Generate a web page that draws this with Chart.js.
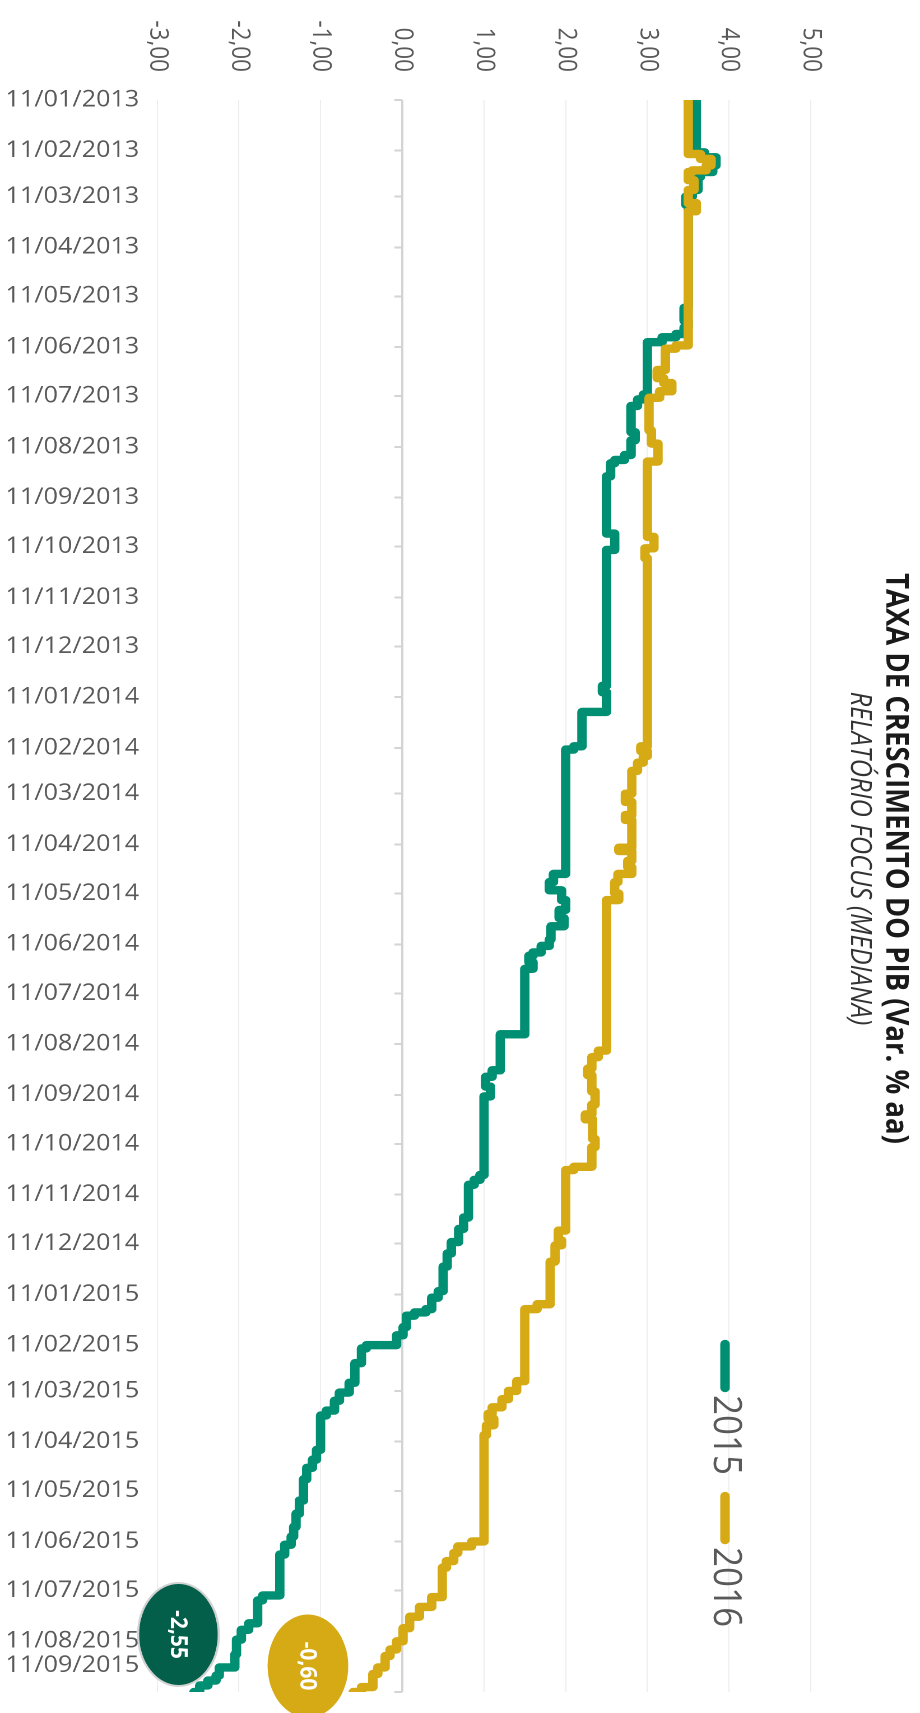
<!DOCTYPE html>
<html>
<head>
<meta charset="utf-8">
<title>Taxa de crescimento do PIB</title>
<script src="https://cdn.jsdelivr.net/npm/chart.js@4.4.1/dist/chart.umd.min.js"></script>
<style>
  html, body { margin: 0; padding: 0; background: #ffffff; }
  body { width: 920px; height: 1713px; overflow: hidden; position: relative; }
  /* the chart is laid out landscape and turned a quarter turn clockwise */
  #frame {
    position: absolute; left: 0; top: 0;
    width: 1713px; height: 821px;
    transform-origin: 0 0;
    transform: translate(920px, 0) rotate(90deg) scale(1, 1.12058);
  }
</style>
</head>
<body>
<div id="frame"><canvas id="chart" width="1713" height="821"></canvas></div>
<script>
// ---- data -----------------------------------------------------------------
const titleText = 'TAXA DE CRESCIMENTO DO PIB (Var. % aa)';
const subtitleText = 'RELATÓRIO FOCUS (MEDIANA)';

const dateLabels = [
  '11/01/2013', '11/02/2013', '11/03/2013', '11/04/2013', '11/05/2013', '11/06/2013',
  '11/07/2013', '11/08/2013', '11/09/2013', '11/10/2013', '11/11/2013', '11/12/2013',
  '11/01/2014', '11/02/2014', '11/03/2014', '11/04/2014', '11/05/2014', '11/06/2014',
  '11/07/2014', '11/08/2014', '11/09/2014', '11/10/2014', '11/11/2014', '11/12/2014',
  '11/01/2015', '11/02/2015', '11/03/2015', '11/04/2015', '11/05/2015', '11/06/2015',
  '11/07/2015', '11/08/2015', '11/09/2015'
];

const valueTicks = [-3, -2, -1, 0, 1, 2, 3, 4, 5];

// median forecast for 2015 GDP growth: dates on which the median changed and the new value
const dates2015 = [
  '2013-01-11', '2013-02-12', '2013-02-15', '2013-02-20', '2013-02-24', '2013-02-27', '2013-03-07',
  '2013-03-11', '2013-03-16', '2013-05-18', '2013-05-26', '2013-05-30', '2013-06-03', '2013-06-05',
  '2013-06-08', '2013-07-10', '2013-07-13', '2013-07-17', '2013-08-02', '2013-08-07', '2013-08-16',
  '2013-08-19', '2013-08-21', '2013-08-29', '2013-10-03', '2013-10-13', '2014-01-04', '2014-01-08',
  '2014-01-20', '2014-02-10', '2014-02-12', '2014-04-29', '2014-05-04', '2014-05-09', '2014-05-15',
  '2014-05-21', '2014-05-26', '2014-05-31', '2014-06-08', '2014-06-12', '2014-06-16', '2014-06-18',
  '2014-06-22', '2014-06-26', '2014-08-05', '2014-08-27', '2014-08-31', '2014-09-06', '2014-09-12',
  '2014-10-30', '2014-11-02', '2014-11-05', '2014-11-25', '2014-12-02', '2014-12-10', '2014-12-17',
  '2014-12-25', '2015-01-09', '2015-01-13', '2015-01-20', '2015-01-22', '2015-01-24', '2015-01-31',
  '2015-02-05', '2015-02-11', '2015-02-13', '2015-02-22', '2015-03-06', '2015-03-12', '2015-03-17',
  '2015-03-23', '2015-03-26', '2015-04-16', '2015-04-22', '2015-04-27', '2015-05-04', '2015-05-17',
  '2015-05-25', '2015-06-02', '2015-06-08', '2015-06-13', '2015-06-19', '2015-07-14', '2015-07-17',
  '2015-07-31', '2015-08-04', '2015-08-10', '2015-08-19', '2015-08-27', '2015-09-01', '2015-09-04',
  '2015-09-07', '2015-09-11'
];
const pib2015 = [
  3.60, 3.70, 3.84, 3.80, 3.65, 3.62, 3.55,
  3.47, 3.50, 3.45, 3.50, 3.45, 3.35, 3.18,
  3.00, 2.95, 2.88, 2.80, 2.85, 2.80, 2.72,
  2.60, 2.55, 2.50, 2.60, 2.50, 2.45, 2.50,
  2.20, 2.10, 2.00, 1.85, 1.80, 1.95, 2.00,
  1.92, 1.98, 1.82, 1.80, 1.70, 1.60, 1.55,
  1.60, 1.50, 1.20, 1.10, 1.02, 1.08, 1.00,
  0.95, 0.88, 0.81, 0.75, 0.69, 0.60, 0.55,
  0.50, 0.44, 0.36, 0.29, 0.15, 0.05, 0.01,
  -0.07, -0.44, -0.50, -0.58, -0.65, -0.77, -0.83,
  -0.93, -1.00, -1.05, -1.10, -1.17, -1.21, -1.26,
  -1.30, -1.33, -1.36, -1.44, -1.50, -1.71, -1.77,
  -1.88, -1.97, -2.03, -2.05, -2.24, -2.28, -2.38,
  -2.48, -2.55
];

// median forecast for 2016 GDP growth
const dates2016 = [
  '2013-01-11', '2013-02-13', '2013-02-16', '2013-02-20', '2013-02-23', '2013-02-24', '2013-03-01',
  '2013-03-07', '2013-03-15', '2013-03-20', '2013-06-10', '2013-06-12', '2013-06-25', '2013-06-30',
  '2013-07-03', '2013-07-08', '2013-07-12', '2013-08-01', '2013-08-09', '2013-08-20', '2013-10-05',
  '2013-10-12', '2013-10-18', '2014-02-10', '2014-02-13', '2014-02-16', '2014-02-20', '2014-02-25',
  '2014-03-11', '2014-03-16', '2014-03-24', '2014-03-27', '2014-04-13', '2014-04-15', '2014-04-21',
  '2014-04-25', '2014-04-29', '2014-05-04', '2014-05-11', '2014-05-15', '2014-08-15', '2014-08-19',
  '2014-08-26', '2014-08-30', '2014-09-09', '2014-09-17', '2014-09-23', '2014-09-26', '2014-10-08',
  '2014-10-13', '2014-10-25', '2014-10-27', '2014-12-03', '2014-12-09', '2014-12-12', '2014-12-22',
  '2015-01-17', '2015-01-20', '2015-03-05', '2015-03-11', '2015-03-16', '2015-03-21', '2015-03-25',
  '2015-03-28', '2015-04-01', '2015-04-07', '2015-06-11', '2015-06-14', '2015-06-18', '2015-06-23',
  '2015-06-27', '2015-07-15', '2015-07-21', '2015-07-27', '2015-08-03', '2015-08-11', '2015-08-16',
  '2015-08-20', '2015-08-27', '2015-08-31', '2015-09-08', '2015-09-11'
];
const pib2016 = [
  3.50, 3.65, 3.78, 3.72, 3.55, 3.50, 3.57,
  3.50, 3.60, 3.50, 3.35, 3.22, 3.12, 3.20,
  3.30, 3.15, 3.02, 3.05, 3.13, 3.00, 3.08,
  2.97, 3.00, 2.92, 3.00, 2.95, 2.88, 2.81,
  2.73, 2.81, 2.73, 2.81, 2.65, 2.81, 2.76,
  2.81, 2.64, 2.60, 2.65, 2.50, 2.40, 2.32,
  2.27, 2.32, 2.36, 2.32, 2.24, 2.33, 2.36,
  2.32, 2.10, 2.00, 1.91, 1.95, 1.87, 1.81,
  1.65, 1.50, 1.40, 1.30, 1.22, 1.10, 1.05,
  1.12, 1.03, 1.00, 0.85, 0.68, 0.63, 0.54,
  0.49, 0.36, 0.21, 0.09, 0.01, -0.07, -0.15,
  -0.21, -0.30, -0.36, -0.50, -0.60
];

// ---- helpers --------------------------------------------------------------
const BASE = Date.UTC(2013, 0, 11);
const dayOfIso = s => { const [y, m, d] = s.split('-').map(Number); return (Date.UTC(y, m - 1, d) - BASE) / 864e5; };
const dayOfLabel = s => { const [d, m, y] = s.split('/').map(Number); return (Date.UTC(y, m - 1, d) - BASE) / 864e5; };
const fmt = v => v.toFixed(2).replace('.', ',');

const tickDays = dateLabels.map(dayOfLabel);
const firstDay = tickDays[0];
const lastDay = tickDays[tickDays.length - 1];

const toPoints = (dates, values) => dates.map((d, i) => ({ x: dayOfIso(d), y: values[i] }));

const FONT = "'Open Sans', 'Noto Sans', sans-serif";
const AXIS_GREY = '#595959';

// ---- drawing helpers ------------------------------------------------------
const headerPlugin = {
  id: 'header',
  afterDraw(chart) {
    const ctx = chart.ctx;
    const cx = chart.width / 2;
    ctx.save();
    ctx.textAlign = 'center';
    ctx.textBaseline = 'middle';
    ctx.fillStyle = '#1a1a1a';
    ctx.font = `bold 27.5px ${FONT}`;
    ctx.fillText(titleText, cx + 2, 22);
    ctx.fillStyle = '#333333';
    ctx.font = `italic 25.5px ${FONT}`;
    ctx.fillText(subtitleText, cx + 2, 54);
    ctx.restore();
  }
};

const legendPlugin = {
  id: 'lineLegend',
  afterDraw(chart) {
    const ctx = chart.ctx;
    const y = 174;
    let x = 1344;
    ctx.save();
    ctx.font = `35px ${FONT}`;
    ctx.textBaseline = 'middle';
    ctx.textAlign = 'left';
    chart.data.datasets.forEach(ds => {
      ctx.strokeStyle = ds.borderColor;
      ctx.lineWidth = ds.borderWidth;
      ctx.lineCap = 'round';
      ctx.beginPath();
      ctx.moveTo(x, y);
      ctx.lineTo(x + 44, y);
      ctx.stroke();
      ctx.fillStyle = AXIS_GREY;
      ctx.fillText(ds.label, x + 51, y);
      x += 51 + ctx.measureText(ds.label).width + 21;
    });
    ctx.restore();
  }
};

// callout ellipses carrying the latest value of each series
const bubbleStyle = [
  { dx: -57.5, dy: 13.8, rx: 51.5, ry: 36, fill: '#035E4A', stroke: '#d2d2d2' },
  { dx: -26, dy: 40.5, rx: 51.5, ry: 36, fill: '#D6AA14', stroke: null }
];
const bubblePlugin = {
  id: 'endBubbles',
  afterDatasetsDraw(chart) {
    const ctx = chart.ctx;
    ctx.save();
    chart.data.datasets.forEach((ds, i) => {
      const meta = chart.getDatasetMeta(i);
      const el = meta.data[meta.data.length - 1];
      const last = ds.data[ds.data.length - 1].y;
      const s = bubbleStyle[i];
      const cx = el.x + s.dx, cy = el.y + s.dy;
      ctx.beginPath();
      ctx.ellipse(cx, cy, s.rx, s.ry, 0, 0, Math.PI * 2);
      ctx.fillStyle = s.fill;
      ctx.fill();
      if (s.stroke) {
        ctx.lineWidth = 2;
        ctx.strokeStyle = s.stroke;
        ctx.stroke();
      }
      ctx.fillStyle = '#ffffff';
      ctx.font = `bold 21px ${FONT}`;
      ctx.textAlign = 'center';
      ctx.textBaseline = 'middle';
      ctx.fillText(fmt(last), cx, cy + 1);
    });
    ctx.restore();
  }
};

function draw() {
  new Chart(document.getElementById('chart'), {
    type: 'line',
    data: {
      datasets: [
        {
          label: '2015',
          data: toPoints(dates2015, pib2015),
          borderColor: '#008F72',
          borderWidth: 8.4,
          order: 1
        },
        {
          label: '2016',
          data: toPoints(dates2016, pib2016),
          borderColor: '#D6AA14',
          borderWidth: 8.4,
          order: 0
        }
      ]
    },
    options: {
      responsive: false,
      devicePixelRatio: 2,
      animation: false,
      layout: { padding: { top: 97.5, right: 21, left: 0, bottom: 0 } },
      elements: {
        line: { stepped: true, fill: false, borderJoinStyle: 'round', borderCapStyle: 'round', tension: 0 },
        point: { radius: 0, hoverRadius: 0 }
      },
      datasets: { line: { xAxisID: 'x', yAxisID: 'y' } },
      plugins: {
        legend: { display: false },
        title: { display: false },
        tooltip: { enabled: false }
      },
      events: [],
      scales: {
        // date axis crossing at zero: only the tick marks
        x: {
          type: 'linear',
          min: firstDay,
          max: lastDay,
          position: { y: 0 },
          afterBuildTicks: s => { s.ticks = tickDays.map(v => ({ value: v })); },
          border: { display: false },
          grid: { drawOnChartArea: false, drawTicks: true, tickLength: 7, tickColor: '#d4d4d4', tickWidth: 2 },
          ticks: { display: false }
        },
        // date labels along the low edge
        xLabels: {
          type: 'linear',
          axis: 'x',
          min: firstDay,
          max: lastDay,
          position: 'bottom',
          afterBuildTicks: s => {
            s.ticks = tickDays.map((v, i) => ({ value: i === tickDays.length - 1 ? v - 16 : v }));
          },
          afterFit: s => { s.height = 140.3; },
          border: { display: false },
          grid: { display: false, drawTicks: false },
          ticks: {
            autoSkip: false,
            minRotation: 90,
            maxRotation: 90,
            padding: 16,
            color: AXIS_GREY,
            font: { family: FONT, size: 22.5 },
            callback: (v, i) => dateLabels[i]
          }
        },
        y: {
          type: 'linear',
          min: valueTicks[0],
          max: valueTicks[valueTicks.length - 1],
          position: 'left',
          afterBuildTicks: s => { s.ticks = valueTicks.map(v => ({ value: v })); },
          afterFit: s => { s.width = 100; },
          border: { display: false },
          grid: {
            drawTicks: false,
            color: c => (c.tick && c.tick.value === 0 ? '#d4d4d4' : '#ededed'),
            lineWidth: c => (c.tick && c.tick.value === 0 ? 2 : 1)
          },
          ticks: {
            padding: 28,
            color: AXIS_GREY,
            font: { family: FONT, size: 22.5 },
            callback: v => fmt(v)
          }
        }
      }
    },
    plugins: [headerPlugin, legendPlugin, bubblePlugin]
  });
}

const fontLoads = [
  `22px ${FONT}`, `bold 22px ${FONT}`, `italic 20px ${FONT}`, `35px ${FONT}`
].map(f => document.fonts.load(f));
Promise.all(fontLoads).then(draw, draw);
</script>
</body>
</html>
